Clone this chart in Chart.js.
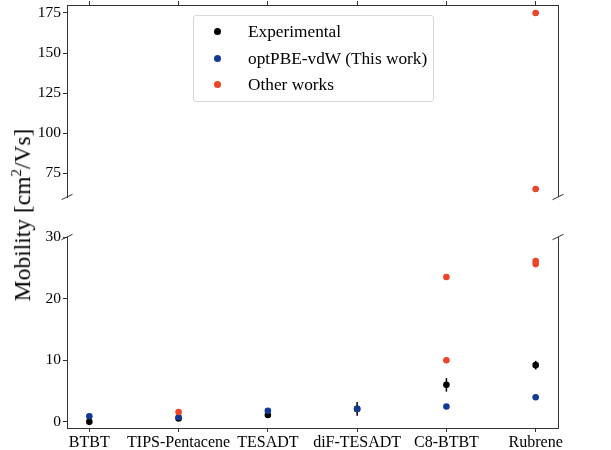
<!DOCTYPE html>
<html>
<head>
<meta charset="utf-8">
<script src="https://cdn.jsdelivr.net/npm/chart.js@4"></script>
<style>
  body { margin: 0; background: #fff; }
  #wrap { position: relative; width: 611px; height: 450px; overflow: hidden; font-family: 'Liberation Serif', 'DejaVu Serif', serif; }
  #wrap canvas { position: absolute; left: 0; }
  #cTop { top: 0; }
  #cBot { top: 225px; }
  #ylabel { position: absolute; left: 22px; top: 215px; transform: translate(-50%, -50%) rotate(-90deg); font-size: 23.5px; white-space: nowrap; color: #000; }
  #ylabel sup { font-size: 15px; }
  #legend { position: absolute; left: 193px; top: 15px; width: 239px; height: 85px; border: 1px solid #d8d8d8; border-radius: 3px; background: rgba(255,255,255,0.8); }
  .row { position: absolute; left: 0; height: 20px; font-size: 17.3px; line-height: 20px; color: #000; }
  .row .dot { position: absolute; left: 20px; top: 6px; width: 7px; height: 7px; border-radius: 50%; }
  .row span { position: absolute; left: 54px; top: 0; white-space: nowrap; }
</style>
</head>
<body>
<div id="wrap">
  <canvas id="cTop" width="611" height="210"></canvas>
  <canvas id="cBot" width="611" height="225"></canvas>
  <div id="ylabel">Mobility [cm<sup>2</sup>/Vs]</div>
  <div id="legend"></div>
</div>
<script>
// categories on the x axis
const categories = ['BTBT', 'TIPS-Pentacene', 'TESADT', 'diF-TESADT', 'C8-BTBT', 'Rubrene'];

// measured mobilities (cm2/Vs) and their error bars
const experimental = [0.0, 0.55, 1.1, 2.1, 6.0, 9.2];
const experimentalErr = [0, 0.3, 0.3, 1.1, 1.1, 0.7];

// this work
const optPBE = [0.9, 0.75, 1.8, 2.1, 2.5, 4.0];

// other works: category index + value
const otherCat = [1, 4, 4, 5, 5, 5, 5];
const otherVal = [1.6, 23.5, 10.0, 26.1, 25.6, 175, 65];

// tick labels of the two panels
const topTicks = [75, 100, 125, 150, 175];
const bottomTicks = [0, 10, 20, 30];

const seriesNames = ['Experimental', 'optPBE-vdW (This work)', 'Other works'];
const seriesColors = ['#000000', '#123a94', '#ee4427'];

const FONT = "'Liberation Serif', 'DejaVu Serif', serif";
const AXIS = '#333333';

function makeDatasets() {
  return [
    {
      label: seriesNames[2],
      data: otherCat.map((c, i) => ({ x: c, y: otherVal[i] })),
      backgroundColor: seriesColors[2], borderWidth: 0, pointRadius: 3.3, order: 0
    },
    {
      label: seriesNames[1],
      data: optPBE.map((v, i) => ({ x: i, y: v })),
      backgroundColor: seriesColors[1], borderWidth: 0, pointRadius: 3.3, order: 1
    },
    {
      label: seriesNames[0],
      data: experimental.map((v, i) => ({ x: i, y: v })),
      backgroundColor: seriesColors[0], borderWidth: 0, pointRadius: 3.3, order: 2
    }
  ];
}

// error bars, the right spine and the little break marks
const extras = {
  id: 'extras',
  beforeDatasetsDraw(chart) {
    const ctx = chart.ctx, xs = chart.scales.x, ys = chart.scales.y, a = chart.chartArea;
    ctx.save();
    ctx.beginPath();
    ctx.rect(a.left, a.top, a.right - a.left, a.bottom - a.top);
    ctx.clip();
    ctx.strokeStyle = '#000';
    ctx.lineWidth = 1.5;
    experimental.forEach((v, i) => {
      const e = experimentalErr[i];
      if (!e) return;
      const x = xs.getPixelForValue(i);
      ctx.beginPath();
      ctx.moveTo(x, ys.getPixelForValue(v - e));
      ctx.lineTo(x, ys.getPixelForValue(v + e));
      ctx.stroke();
    });
    ctx.restore();
  },
  afterDraw(chart, args, opts) {
    const ctx = chart.ctx, a = chart.chartArea;
    ctx.save();
    ctx.strokeStyle = AXIS;
    ctx.lineWidth = 1;
    ctx.beginPath();
    ctx.moveTo(a.right + 0.5, a.top);
    ctx.lineTo(a.right + 0.5, a.bottom);
    ctx.stroke();
    const yb = opts.breakAt === 'bottom' ? a.bottom : a.top;
    [a.left, a.right].forEach(x => {
      ctx.beginPath();
      ctx.moveTo(x - 5.5, yb + 2.7);
      ctx.lineTo(x + 5.5, yb - 2.7);
      ctx.stroke();
    });
    ctx.restore();
  }
};

function xScale(position, showLabels, boxH) {
  return {
    type: 'linear', position: position, min: -0.25, max: 5.25,
    afterBuildTicks: s => { s.ticks = categories.map((c, i) => ({ value: i })); },
    afterFit: s => { s.height = boxH; },
    grid: { display: true, drawOnChartArea: false, drawTicks: true, tickLength: 4, color: AXIS },
    border: { display: true, color: AXIS, width: 1 },
    ticks: {
      display: showLabels, autoSkip: false, maxRotation: 0, padding: 1, color: '#000',
      font: { family: FONT, size: 16 },
      callback: v => categories[v]
    }
  };
}

function yScale(min, max, tickList) {
  return {
    type: 'linear', min: min, max: max,
    afterBuildTicks: s => { s.ticks = tickList.map(v => ({ value: v })); },
    afterFit: s => { s.width = 67; s.paddingTop = 0; s.paddingBottom = 0; },
    grid: { display: true, drawOnChartArea: false, drawTicks: true, tickLength: 4, color: AXIS },
    border: { display: true, color: AXIS, width: 1 },
    ticks: { padding: 2, color: '#000', font: { family: FONT, size: 15.5 } }
  };
}

function baseOptions(padding, xs, ys, breakAt) {
  return {
    responsive: false, animation: false, devicePixelRatio: 1,
    layout: { padding: padding },
    plugins: { legend: { display: false }, tooltip: { enabled: false }, extras: { breakAt: breakAt } },
    scales: { x: xs, y: ys }
  };
}

new Chart(document.getElementById('cTop'), {
  type: 'scatter',
  data: { datasets: makeDatasets() },
  options: baseOptions({ left: 0, right: 53, top: 0, bottom: 13 }, xScale('top', false, 5), yScale(60, 180, topTicks), 'bottom'),
  plugins: [extras]
});

new Chart(document.getElementById('cBot'), {
  type: 'scatter',
  data: { datasets: makeDatasets() },
  options: baseOptions({ left: 0, right: 53, top: 12, bottom: 0 }, xScale('bottom', true, 22), yScale(-1, 30, bottomTicks), 'top'),
  plugins: [extras]
});

// legend box
const legend = document.getElementById('legend');
const rowTops = [6, 33, 59];
seriesNames.forEach((name, i) => {
  const row = document.createElement('div');
  row.className = 'row';
  row.style.top = rowTops[i] + 'px';
  row.innerHTML = `<div class="dot" style="background:${seriesColors[i]}"></div><span>${name}</span>`;
  legend.appendChild(row);
});
</script>
</body>
</html>
